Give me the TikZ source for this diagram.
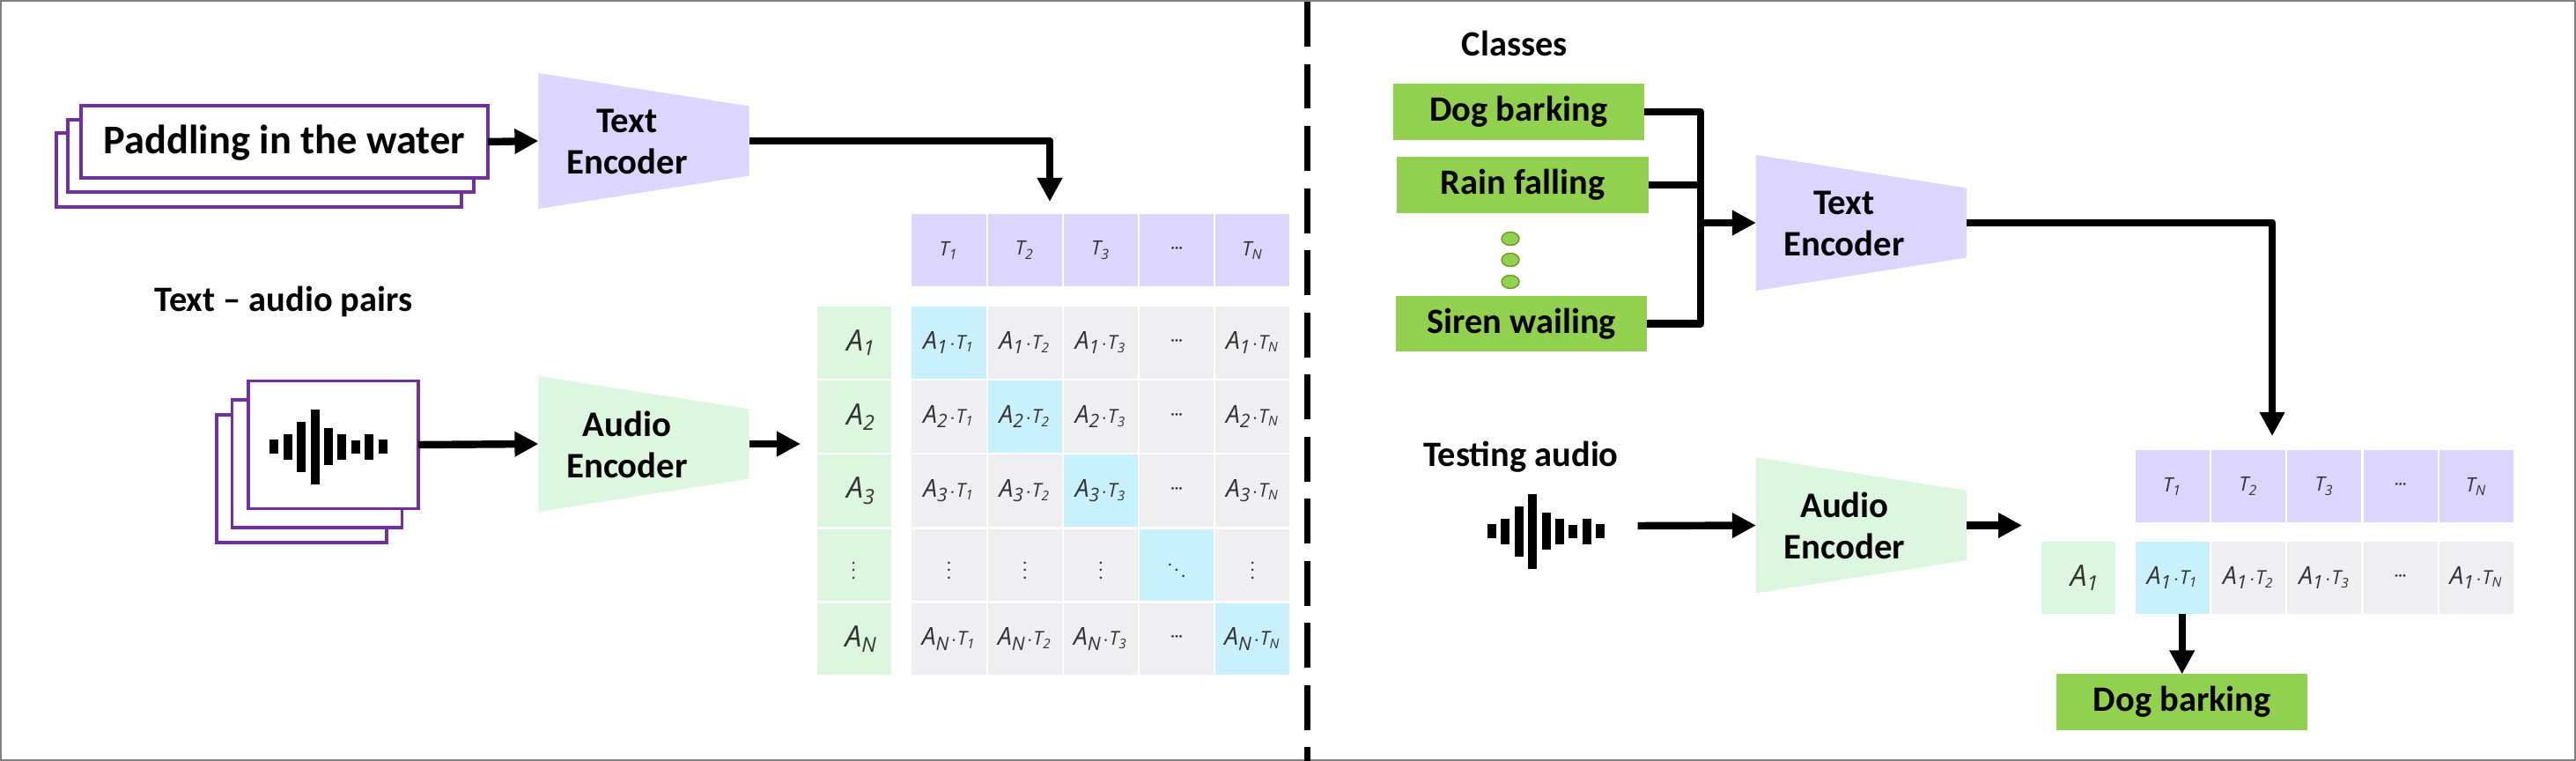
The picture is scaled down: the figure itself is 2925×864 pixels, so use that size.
\documentclass[tikz,border=0pt]{standalone}
\usepackage{fontspec}
\setmainfont{Carlito}
\newfontfamily\matfont{Open Sans}
\usetikzlibrary{arrows.meta,calc,shapes.geometric}

\definecolor{textenccol}{HTML}{DCD6FF}
\definecolor{audioenccol}{HTML}{DCF6E0}
\definecolor{matblue}{HTML}{C8F0FD}
\definecolor{matgray}{HTML}{EFEFF1}
\definecolor{stackcol}{HTML}{7030A0}
\definecolor{classcol}{HTML}{92D050}
\definecolor{dotedge}{HTML}{6F9A22}
\definecolor{matink}{HTML}{333333}

\newcommand{\atcell}[2]{{\matfont\itshape\fontsize{8}{9}\selectfont A\textsubscript{#1}{\fontsize{6.2}{7}\selectfont$\cdot$T\textsubscript{#2}}}}
\newcommand{\hdots}{{\matfont\bfseries\fontsize{4.5}{5}\selectfont ···}}
\newcommand{\smallv}{\scalebox{.6}{$\vdots$}}
\newcommand{\smalld}{\scalebox{.6}{$\ddots$}}

\tikzset{
    enclosing/.style={inner sep=0pt, outer sep=0pt},
    encoder/.style={enclosing, minimum width=2.39cm, minimum height=1.54cm,
        path picture={
            \fill[#1] (path picture bounding box.north west)
                -- ($(path picture bounding box.east)+(0,-39.5)$)
                -- ($(path picture bounding box.east)+(0,39.5)$)
                -- (path picture bounding box.south west) -- cycle;
        }},
    enclabel/.style={enclosing, align=center, font=\bfseries\fontsize{11.6}{13.4}\selectfont},
    title/.style={enclosing, font=\bfseries\fontsize{11.5}{13}\selectfont},
    stackbox/.style={enclosing, draw=stackcol, fill=white, line width=1.1pt},
    classbox/.style={enclosing, fill=classcol, minimum width=2.85cm, minimum height=.63cm,
        text height=.29cm, text depth=.08cm, font=\bfseries\fontsize{11.5}{13}\selectfont},
    classdot/.style={ellipse, enclosing, draw=dotedge, line width=.4pt, fill=classcol,
        minimum width=.2cm, minimum height=.15cm},
    cell/.style={enclosing, minimum width=.84cm, minimum height=.815cm, text=matink},
    headcell/.style={cell, fill=textenccol, font=\matfont\itshape\fontsize{6.4}{7}\selectfont},
    rowcell/.style={cell, fill=audioenccol, font=\matfont\itshape\fontsize{9.5}{10}\selectfont},
    thickline/.style={line width=2.4pt, line join=round},
    arrowline/.style={thickline, -{Triangle[length=.27cm, width=.27cm]}},
    waveform/.pic={
        \foreach \i/\h in {-4/16, -3/29, -2/57, -1/85, 0/42, 1/29, 2/15, 3/29, 4/16}
            \fill[black] (\i*15.4-5,-\h/2) rectangle (\i*15.4+5,\h/2);
    }
}

\begin{document}
\begin{tikzpicture}[x=0.01cm, y=-0.01cm]
    \useasboundingbox (0,0) rectangle (2925,864);
    \draw[gray, line width=.5pt] (1,1) rectangle (2924,863);

    % Left half: stacks of inputs
    \node[stackbox, minimum width=4.60cm, minimum height=.845cm] (paddleback) at (294,193) {};
    \node[stackbox, minimum width=4.61cm, minimum height=.825cm] (paddlemid) at (307.5,177) {};
    \node[stackbox, minimum width=4.62cm, minimum height=.825cm, text height=.37cm, text depth=.10cm, font=\bfseries\fontsize{13.2}{14}\selectfont] (paddlefront) at (323,161) {Paddling in the water};

    \node[stackbox, minimum width=1.93cm, minimum height=1.45cm] (audioback) at (342.5,543.5) {};
    \node[stackbox, minimum width=1.93cm, minimum height=1.45cm] (audiomid) at (360,526.5) {};
    \node[stackbox, minimum width=1.93cm, minimum height=1.45cm] (audiofront) at (378.5,505) {};
    \pic at (373,507) {waveform};

    \node[title] (pairs) at (322,342) {Text – audio pairs};

    % Encoders
    \node[encoder=textenccol] (textenc) at (731,160) {};
    \node[enclabel] (textenclabel) at (712,161) {Text\\Encoder};
    \node[encoder=audioenccol] (audioenc) at (731,504) {};
    \node[enclabel] (audioenclabel) at (712,505) {Audio\\Encoder};

    % Similarity matrix
    \foreach \c/\cx in {1/0, 2/1, 3/2, N/4}
        \node[headcell] (head\c) at (1077.5+\cx*86.2,284) {T\textsubscript{\c}};
    \node[headcell] (headdots) at (1077.5+3*86.2,284) {\hdots};
    \foreach \r/\ry in {1/0, 2/1, 3/2, N/4} {
        \node[rowcell] (row\r) at (970,389+\ry*84.1) {\hspace*{.16cm}A\textsubscript{\r}};
        \foreach \c/\cx in {1/0, 2/1, 3/2, N/4} {
            \ifnum\ry=\cx\def\cellcol{matblue}\else\def\cellcol{matgray}\fi
            \node[cell, fill=\cellcol] (cell\r\c) at (1077.5+\cx*86.2,389+\ry*84.1) {\atcell{\r}{\c}};
        }
        \node[cell, fill=matgray] (cell\r dots) at (1077.5+3*86.2,389+\ry*84.1) {\hdots};
    }
    \node[rowcell] (rowdots) at (970,389+3*84.1) {\smallv};
    \foreach \c/\cx in {1/0, 2/1, 3/2, N/4}
        \node[cell, fill=matgray] (celldots\c) at (1077.5+\cx*86.2,389+3*84.1) {\smallv};
    \node[cell, fill=matblue] (celldiag) at (1077.5+3*86.2,389+3*84.1) {\smalld};

    % Left connectors
    \coordinate (matrixtop) at (1192,229);
    \coordinate (matrixin) at (909,504);
    \draw[arrowline] (paddlefront.east) -- (textenc.west);
    \draw[arrowline] (audiofront.east) -- (audioenc.west);
    \draw[arrowline] (audioenc.east) -- (matrixin);
    \draw[arrowline] (textenc.east) -| (matrixtop);

    % Divider
    \coordinate (splittop) at (1484,2);
    \coordinate (splitbot) at (1484,864);
    \draw[line width=2pt, dash pattern=on 14.5pt off 5.55pt] (splittop) -- (splitbot);

    % Right half: classes
    \node[title] (classes) at (1720,49) {Classes};
    \node[classbox] (dog) at (1724.3,127) {Dog barking};
    \node[classbox] (rain) at (1729,210) {Rain falling};
    \node[classbox] (siren) at (1727.5,367.5) {Siren wailing};
    \foreach \n/\y in {1/271, 2/295, 3/320}
        \node[classdot] (dot\n) at (1715,\y) {};

    \node[encoder=textenccol] (textencr) at (2113.5,253) {};
    \node[enclabel] (textenclabelr) at (2094,254) {Text\\Encoder};
    \node[encoder=audioenccol] (audioencr) at (2113.5,596.5) {};
    \node[enclabel] (audioenclabelr) at (2094.5,597) {Audio\\Encoder};

    \node[title] (testing) at (1727,519) {Testing audio};
    \pic at (1755.5,603) {waveform};

    % Score row
    \foreach \c/\cx in {1/0, 2/1, 3/2, N/4}
        \node[headcell] (rhead\c) at (2467+\cx*86.2,552) {T\textsubscript{\c}};
    \node[headcell] (rheaddots) at (2467+3*86.2,552) {\hdots};
    \node[rowcell] (rrow) at (2359.5,656) {\hspace*{.16cm}A\textsubscript{1}};
    \node[cell, fill=matblue] (rcell1) at (2467,656) {\atcell{1}{1}};
    \foreach \c/\cx in {2/1, 3/2, N/4}
        \node[cell, fill=matgray] (rcell\c) at (2467+\cx*86.2,656) {\atcell{1}{\c}};
    \node[cell, fill=matgray] (rcelldots) at (2467+3*86.2,656) {\hdots};

    \node[classbox] (dogout) at (2477.7,797) {Dog barking};

    % Right connectors
    \coordinate (classjoin) at (1931,253);
    \coordinate (rowtop) at (2580,495);
    \coordinate (wavetail) at (1859.5,597);
    \coordinate (rowin) at (2296,596.5);
    \draw[thickline] (dog.east) -| (classjoin);
    \draw[thickline] (rain.east) -| (classjoin);
    \draw[thickline] (siren.east) -| (classjoin);
    \draw[arrowline] (classjoin) -- (textencr.west);
    \draw[arrowline] (textencr.east) -| (rowtop);
    \draw[arrowline] (wavetail) -- (audioencr.west);
    \draw[arrowline] (audioencr.east) -- (rowin);
    \draw[arrowline] (rcell1.south -| dogout.north) -- (dogout.north);
\end{tikzpicture}
\end{document}
